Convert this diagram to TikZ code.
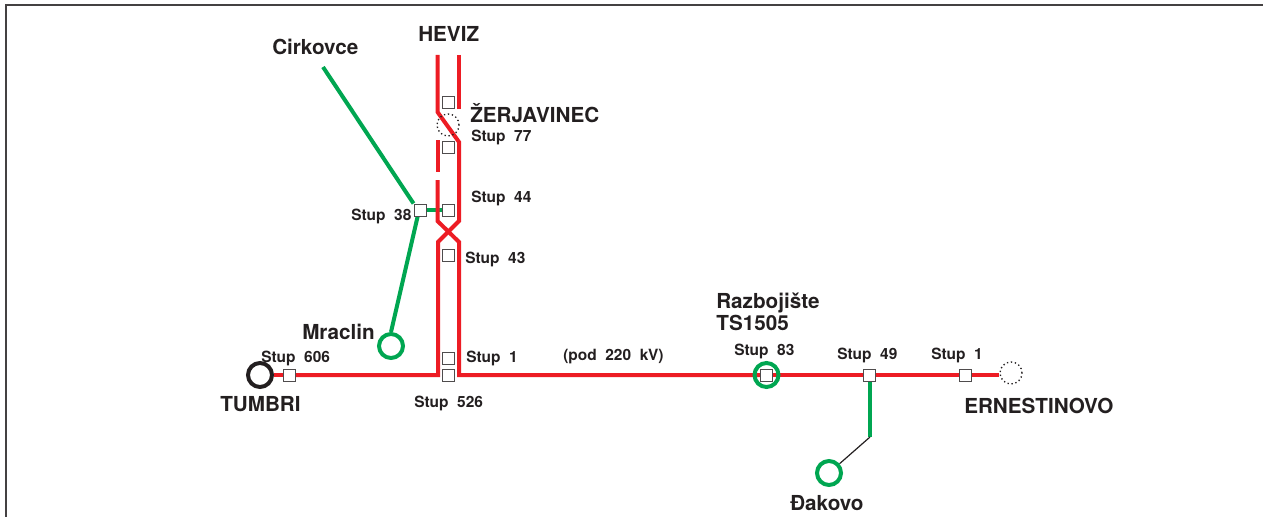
\documentclass[tikz,border=0pt]{standalone}
\usepackage{fontspec}
\setmainfont{TeX Gyre Heros}
\usetikzlibrary{backgrounds}
\definecolor{linered}{RGB}{237,28,36}
\definecolor{linegreen}{RGB}{0,166,81}
\definecolor{labelgray}{RGB}{35,31,32}
\tikzset{
  big/.style={font=\fontsize{15.5pt}{16.6pt}\selectfont\bfseries,text=labelgray,inner sep=0pt,align=left},
  small/.style={font=\fontsize{11.6pt}{12pt}\selectfont\bfseries,text=labelgray,inner sep=0pt},
  tower/.style={draw=labelgray!80,fill=white,line width=0.7pt,minimum size=9pt,inner sep=0pt,rectangle},
  redline/.style={draw=linered,line width=3pt},
  greenline/.style={draw=linegreen,line width=3pt},
  station/.style={circle,draw=linegreen,line width=3pt,minimum size=18pt,inner sep=0pt},
  future/.style={circle,draw=labelgray,dotted,line width=1pt,minimum size=16.5pt,inner sep=0pt}
}
\begin{document}
\begin{tikzpicture}[x=0.75pt,y=-0.75pt]
\useasboundingbox (0,0) rectangle (1263,517);
\draw[labelgray!85,line width=1.4pt] (6,517) -- (6,5) -- (1263,5);
% stations
\node[future] (zerj) at (448,125) {};
\node[future] (erne) at (1011,373) {};
\node[station,draw=labelgray] (tumbri) at (260,375) {};
\node[station] (mraclin) at (391,346) {};
\node[station] (razb) at (766.5,375) {};
\node[station] (dakovo) at (829,473) {};
% towers
\node[tower] (s606) at (289,375) {};
\node[tower] (s526) at (448.5,375) {};
\node[tower] (s1a) at (448.5,358) {};
\node[tower] (s43) at (448.5,255) {};
\node[tower] (s44) at (448.5,210) {};
\node[tower] (s38) at (420,210) {};
\node[tower] (s77) at (448.5,147.5) {};
\node[tower] (s77b) at (448.5,102.5) {};
\node[tower] (s83) at (766.5,375) {};
\node[tower] (s49) at (869,375) {};
\node[tower] (s1b) at (965,375) {};
\coordinate (cirk) at (323,67);
\coordinate (dakbend) at (870,437);
\begin{scope}[on background layer]
% green lines
\draw[greenline] (cirk) -- (s38.north west);
\draw[greenline] (s38) -- (s44);
\draw[greenline] (s38.-110) -- (mraclin.north);
\draw[greenline] (dakbend |- s49.south) -- (dakbend);
\draw[labelgray,line width=0.9pt] (dakbend) -- (dakovo);
% red double line
\draw[redline] (437.5,55) -- (437.5,112) -- (459,142) -- (459,221) -- (438,242) -- (438,375) -- (s606.east);
\draw[redline] (459,55) -- (459,109);
\draw[redline] (437.5,140) -- (437.5,172);
\draw[redline] (437.5,180) -- (437.5,221) -- (459,242) -- (459,375) -- (s83);
\draw[redline] (s83) -- (s49);
\draw[redline] (s49) -- (s1b);
\draw[redline] (s1b) -- (erne.west |- s1b);
\draw[redline] (tumbri.east) -- (s606);
\end{scope}
% labels
\node[big,anchor=west] (lcirk) at (272,47) {Cirkovce};
\node[big,anchor=west] (lheviz) at (418,34) {HEVIZ};
\node[big,anchor=west] (lzerj) at (470,113) {ŽERJAVINEC};
\node[big,anchor=west] (lmrac) at (302,332) {Mraclin};
\node[big,anchor=west] (ltumb) at (220,404) {TUMBRI};
\node[big,anchor=north west] (lrazb) at (716,293) {Razbojište\\TS1505};
\node[big,anchor=west] (lerne) at (964,406) {ERNESTINOVO};
\node[big,anchor=west] (ldak) at (790,503) {Đakovo};
\node[small,anchor=west] at (471,137) {Stup\ \ 77};
\node[small,anchor=west] at (471,198) {Stup\ \ 44};
\node[small,anchor=west] at (351,216) {Stup\ \ 38};
\node[small,anchor=west] at (465,259) {Stup\ \ 43};
\node[small,anchor=west] at (466,358) {Stup\ \ 1};
\node[small,anchor=west] at (261,358) {Stup\ \ 606};
\node[small,anchor=west] at (414,403) {Stup\ \ 526};
\node[small,anchor=west] at (563,357) {(pod\ \ 220\ \ kV)};
\node[small,anchor=west] at (734,351) {Stup\ \ 83};
\node[small,anchor=west] at (837,355) {Stup\ \ 49};
\node[small,anchor=west] at (931,355) {Stup\ \ 1};
\end{tikzpicture}
\end{document}
